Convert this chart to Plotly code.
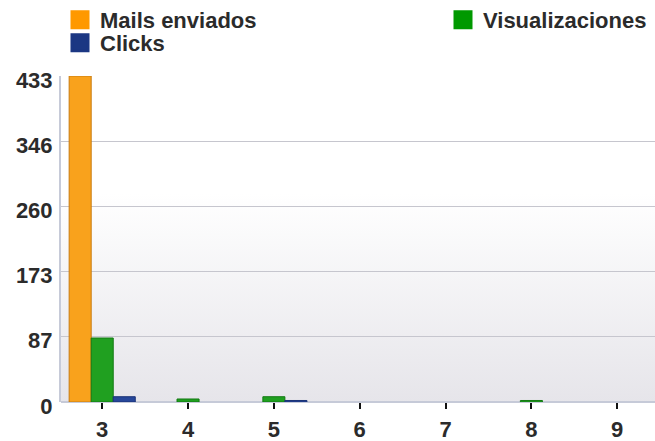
import base64
import plotly.graph_objects as go

categories = ["3", "4", "5", "6", "7", "8", "9"]
mails_enviados = [433, 0, 0, 0, 0, 0, 0]
visualizaciones = [85, 4, 7, 0, 0, 2, 0]
clicks = [7, 0, 2, 0, 0, 0, 0]
y_ticks = [0, 87, 173, 260, 346, 433]

FONT = "Liberation Sans, Arial, sans-serif"
TXT = "#2b2b2b"
FS = 22

svg = ('<svg xmlns="http://www.w3.org/2000/svg" width="100" height="100" preserveAspectRatio="none">'
       '<defs><linearGradient id="g" x1="0" y1="0" x2="0" y2="1">'
       '<stop offset="0" stop-color="#ffffff"/><stop offset="0.36" stop-color="#ffffff"/>'
       '<stop offset="1" stop-color="#e6e5ea"/></linearGradient></defs>'
       '<rect width="100" height="100" fill="url(#g)"/></svg>')
bg_src = "data:image/svg+xml;base64," + base64.b64encode(svg.encode()).decode()

fig = go.Figure()
series = [
    ("Mails enviados", mails_enviados, "#f9a21c", "#c97c10", "#ff9900", "legend"),
    ("Visualizaciones", visualizaciones, "#20a020", "#137a13", "#009900", "legend2"),
    ("Clicks", clicks, "#27479a", "#1a3377", "#1b3783", "legend3"),
]
for name, vals, fill, line, legc, leg in series:
    fig.add_trace(go.Bar(x=categories, y=[v if v else None for v in vals], name=name,
                         showlegend=False,
                         marker=dict(color=fill, line=dict(color=line, width=1))))
for name, vals, fill, line, legc, leg in series:
    fig.add_trace(go.Scatter(x=[None], y=[None], name=name, mode="markers", legend=leg,
                             marker=dict(symbol="square", size=16, color=legc,
                                         line=dict(color=legc, width=3))))

leg_font = dict(family=FONT, size=FS, color=TXT, weight="bold")
def legend_at(xpx, ypx):
    return dict(xref="container", yref="container", x=xpx / 655, y=1 - ypx / 441,
                xanchor="left", yanchor="middle", itemsizing="trace",
                font=leg_font, bgcolor="rgba(0,0,0,0)", borderwidth=0)

fig.update_layout(
    width=655, height=441,
    margin=dict(l=61, r=0, t=76, b=39, autoexpand=False),
    paper_bgcolor="white",
    plot_bgcolor="rgba(0,0,0,0)",
    barmode="group", bargap=0.23, bargroupgap=0,
    font=dict(family=FONT, size=FS, color=TXT, weight="bold"),
    legend=legend_at(60, 20),
    legend2=legend_at(443, 20),
    legend3=legend_at(60, 43),
    images=[dict(source=bg_src, xref="paper", yref="paper", x=0, y=1, sizex=1, sizey=1,
                 xanchor="left", yanchor="top", sizing="stretch", layer="below")],
)
fig.update_xaxes(type="category", range=[-0.48, 6.44], showgrid=False, automargin=False,
                 ticks="outside", ticklen=6, tickwidth=2, tickcolor="#111111",
                 ticklabelstandoff=2, showline=False, zeroline=False,
                 tickfont=dict(family=FONT, size=FS, color=TXT, weight="bold"))
fig.update_yaxes(range=[0, 433], tickvals=y_ticks, ticktext=[str(v) for v in y_ticks],
                 automargin=False,
                 showgrid=True, gridcolor="#c6c6ce", gridwidth=1,
                 zeroline=True, zerolinecolor="#c6cad8", zerolinewidth=2,
                 showline=True, linecolor="#c6cad8", linewidth=2,
                 ticks="", ticklabelstandoff=2, ticklabelshift=4,
                 tickfont=dict(family=FONT, size=FS, color=TXT, weight="bold"))

fig.write_html("out.html", config={"displayModeBar": False})
with open("out.html", encoding="utf-8") as f:
    html = f.read()
html = html.replace("<head>", "<head><style>html,body{margin:0;padding:0;}</style>", 1)
with open("out.html", "w", encoding="utf-8") as f:
    f.write(html)
